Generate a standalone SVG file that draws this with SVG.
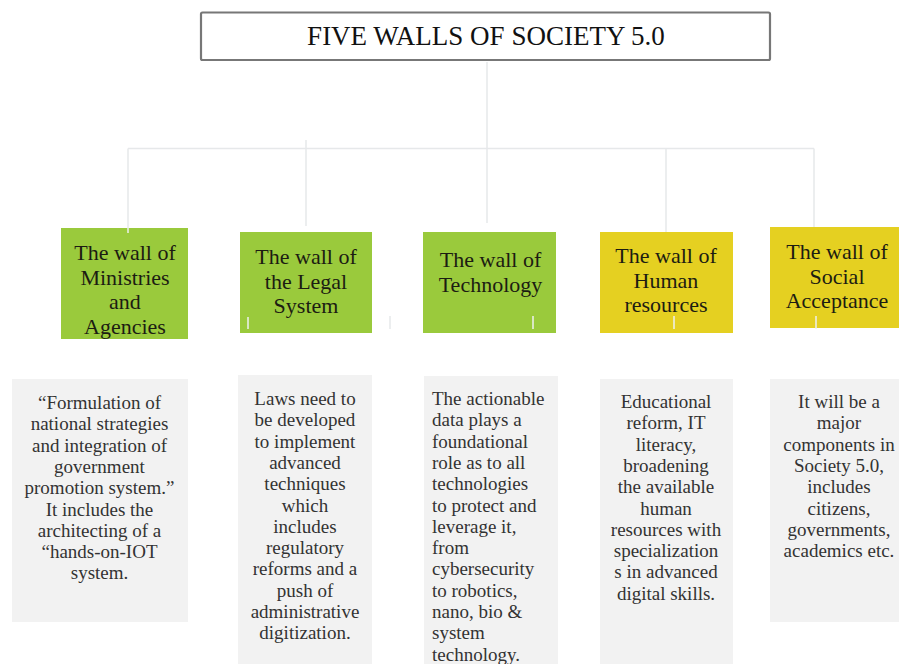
<svg xmlns="http://www.w3.org/2000/svg" width="899" height="664" viewBox="0 0 899 664">
<style>
.conn{stroke:#e6e8ea;stroke-width:1.5;fill:none}
.tick{stroke:#eef0f0;stroke-width:1.5;fill:none}
.green{fill:#9aca3c}
.yellow{fill:#e5d021}
.desc{fill:#f2f2f2}
text{font-family:'Liberation Serif','Tinos','Times New Roman','DejaVu Serif',serif}
.head{font-size:22px;fill:#1c1c12;text-anchor:middle}
.body{font-size:19px;fill:#333333;text-anchor:middle}
.left{text-anchor:start}
.title{font-size:27px;fill:#111111;text-anchor:middle}
</style>
<rect width="899" height="664" fill="#ffffff"/>
<g id="connectors">
<path class="conn" d="M487 62 V223"/>
<path class="conn" d="M128 148.5 H814"/>
<path class="conn" d="M128 148.5 V233"/>
<path class="conn" d="M306 140 V226"/>
<path class="conn" d="M666 148.5 V240"/>
<path class="conn" d="M814 148.5 V235"/>
<path class="conn" d="M390 316 V329"/>
</g>
<g id="title">
<rect x="201" y="12.5" width="569" height="47.5" rx="1.5" fill="#ffffff" stroke="#777777" stroke-width="2.2"/>
<text class="title" x="486" y="45" font-family="Liberation Serif, serif">FIVE WALLS OF SOCIETY 5.0</text>
</g>
<g id="wall-ministries">
<rect class="green" x="61" y="228" width="127" height="111"/>
<path class="tick" d="M128 228 V233"/>
<text class="head" x="125" y="260">The wall of</text>
<text class="head" x="125" y="284.5">Ministries</text>
<text class="head" x="125" y="309">and</text>
<text class="head" x="125" y="333.5">Agencies</text>
</g>
<g id="wall-legal">
<rect class="green" x="240" y="232" width="132" height="101"/>
<path class="tick" d="M248 317 V329"/>
<text class="head" x="306" y="264">The wall of</text>
<text class="head" x="306" y="288.5">the Legal</text>
<text class="head" x="306" y="313">System</text>
</g>
<g id="wall-technology">
<rect class="green" x="423" y="232" width="133" height="101"/>
<path class="tick" d="M533 316 V329"/>
<text class="head" x="490.5" y="267">The wall of</text>
<text class="head" x="490.5" y="292">Technology</text>
</g>
<g id="wall-human">
<rect class="yellow" x="600" y="232" width="133" height="101"/>
<path class="tick" d="M674 316 V329"/>
<text class="head" x="666" y="263">The wall of</text>
<text class="head" x="666" y="287.5">Human</text>
<text class="head" x="666" y="312">resources</text>
</g>
<g id="wall-social">
<rect class="yellow" x="770" y="227" width="140" height="101"/>
<path class="tick" d="M816 316 V329"/>
<text class="head" x="837" y="259">The wall of</text>
<text class="head" x="837" y="283.5">Social</text>
<text class="head" x="837" y="308">Acceptance</text>
</g>
<g id="desc-ministries">
<rect class="desc" x="12" y="379" width="176" height="243"/>
<text class="body" x="99.5" y="409">“Formulation of</text>
<text class="body" x="99.5" y="430.3">national strategies</text>
<text class="body" x="99.5" y="451.6">and integration of</text>
<text class="body" x="99.5" y="472.9">government</text>
<text class="body" x="99.5" y="494.2">promotion system.”</text>
<text class="body" x="99.5" y="515.5">It includes the</text>
<text class="body" x="99.5" y="536.8">architecting  of a</text>
<text class="body" x="99.5" y="558.1">“hands-on-IOT</text>
<text class="body" x="99.5" y="579.4">system.</text>
</g>
<g id="desc-legal">
<rect class="desc" x="238" y="375" width="134" height="295"/>
<text class="body" x="305" y="405">Laws need to</text>
<text class="body" x="305" y="426.3">be developed</text>
<text class="body" x="305" y="447.6">to implement</text>
<text class="body" x="305" y="468.9">advanced</text>
<text class="body" x="305" y="490.2">techniques</text>
<text class="body" x="305" y="511.5">which</text>
<text class="body" x="305" y="532.8">includes</text>
<text class="body" x="305" y="554.1">regulatory</text>
<text class="body" x="305" y="575.4">reforms and a</text>
<text class="body" x="305" y="596.7">push of</text>
<text class="body" x="305" y="618">administrative</text>
<text class="body" x="305" y="639.3">digitization.</text>
</g>
<g id="desc-technology">
<rect class="desc" x="424" y="376" width="134" height="294"/>
<text class="body left" x="432" y="405">The actionable</text>
<text class="body left" x="432" y="426.3">data plays a</text>
<text class="body left" x="432" y="447.6">foundational</text>
<text class="body left" x="432" y="468.9">role as to all</text>
<text class="body left" x="432" y="490.2">technologies</text>
<text class="body left" x="432" y="511.5">to protect and</text>
<text class="body left" x="432" y="532.8">leverage it,</text>
<text class="body left" x="432" y="554.1">from</text>
<text class="body left" x="432" y="575.4">cybersecurity</text>
<text class="body left" x="432" y="596.7">to robotics,</text>
<text class="body left" x="432" y="618">nano, bio &amp;</text>
<text class="body left" x="432" y="639.3">system</text>
<text class="body left" x="432" y="660.6">technology.</text>
</g>
<g id="desc-human">
<rect class="desc" x="600" y="379" width="133" height="291"/>
<text class="body" x="666" y="408">Educational</text>
<text class="body" x="666" y="429.3">reform, IT</text>
<text class="body" x="666" y="450.6">literacy,</text>
<text class="body" x="666" y="471.9">broadening</text>
<text class="body" x="666" y="493.2">the available</text>
<text class="body" x="666" y="514.5">human</text>
<text class="body" x="666" y="535.8">resources with</text>
<text class="body" x="666" y="557.1">specialization</text>
<text class="body" x="666" y="578.4">s in advanced</text>
<text class="body" x="666" y="599.7">digital  skills.</text>
</g>
<g id="desc-social">
<rect class="desc" x="770" y="379" width="140" height="243"/>
<text class="body" x="839" y="408">It will be a</text>
<text class="body" x="839" y="429.3">major</text>
<text class="body" x="839" y="450.6">components in</text>
<text class="body" x="839" y="471.9">Society 5.0,</text>
<text class="body" x="839" y="493.2">includes</text>
<text class="body" x="839" y="514.5">citizens,</text>
<text class="body" x="839" y="535.8">governments,</text>
<text class="body" x="839" y="557.1">academics  etc.</text>
</g>
</svg>
